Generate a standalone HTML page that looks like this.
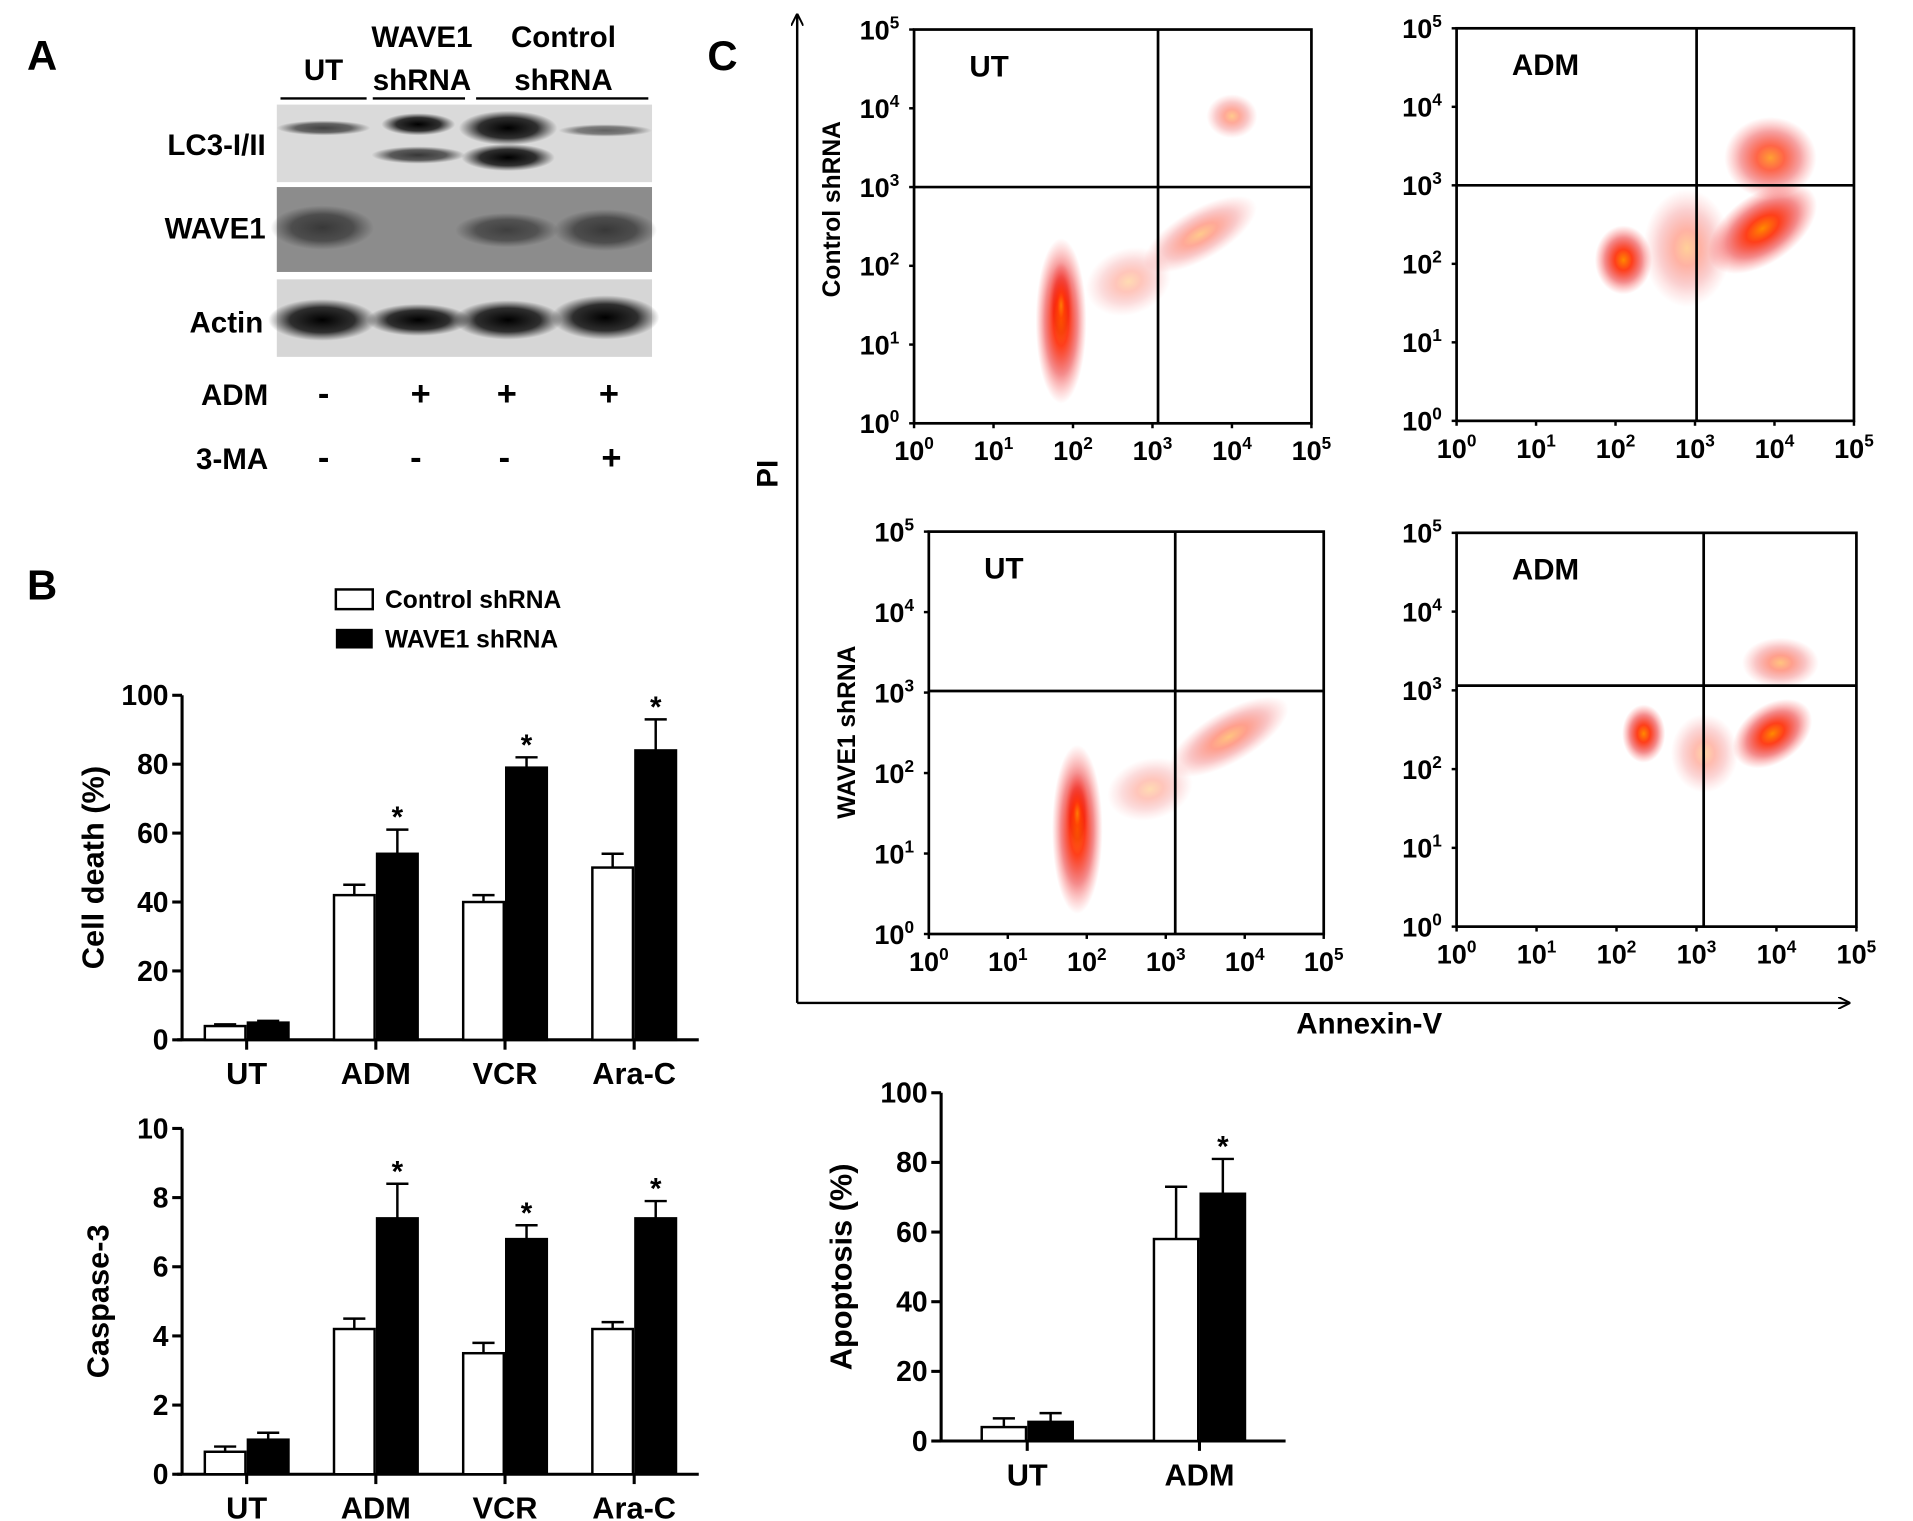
<!DOCTYPE html>
<html><head><meta charset="utf-8"><style>
html,body{margin:0;padding:0;background:#fff;}
svg{display:block;font-family:"Liberation Sans",Arial,sans-serif;font-weight:bold;}
</style></head><body>
<svg id="fig" width="1913" height="1521" viewBox="0 0 1555 1236" preserveAspectRatio="none" xmlns="http://www.w3.org/2000/svg">
<defs>
<radialGradient id="dotg"><stop offset="0" stop-color="#ff8a00" stop-opacity="1"/><stop offset="0.3" stop-color="#ff2a00" stop-opacity="0.9"/><stop offset="0.65" stop-color="#e80000" stop-opacity="0.45"/><stop offset="1" stop-color="#ff3030" stop-opacity="0"/></radialGradient>
<radialGradient id="bandg"><stop offset="0" stop-color="#000" stop-opacity="1"/><stop offset="0.6" stop-color="#111" stop-opacity="0.85"/><stop offset="1" stop-color="#222" stop-opacity="0"/></radialGradient>
<marker id="arr" viewBox="0 0 10 10" refX="9" refY="5" markerWidth="10" markerHeight="10" orient="auto" markerUnits="userSpaceOnUse"><path d="M0,0 L10,5 L0,10" fill="none" stroke="#000" stroke-width="1.6"/></marker>
</defs>

<!-- Panel A -->
<g>
<text x="22" y="57" font-size="34">A</text>
<g font-size="24" text-anchor="middle">
<text x="263" y="65">UT</text>
<text x="343" y="38">WAVE1</text><text x="343" y="73">shRNA</text>
<text x="458" y="38">Control</text><text x="458" y="73">shRNA</text>
</g>
<g stroke="#000" stroke-width="2">
<line x1="228" y1="80" x2="298" y2="80"/><line x1="303" y1="80" x2="378" y2="80"/><line x1="387" y1="80" x2="527" y2="80"/>
</g>
<g>
<rect x="225" y="85" width="305" height="63" fill="#dadada"/>
<ellipse cx="263" cy="104" rx="38" ry="6" fill="url(#bandg)" opacity="0.7"/>
<ellipse cx="340" cy="101" rx="30" ry="9" fill="url(#bandg)"/>
<ellipse cx="340" cy="126" rx="38" ry="7" fill="url(#bandg)" opacity="0.75"/>
<ellipse cx="413" cy="104" rx="40" ry="14" fill="url(#bandg)"/>
<ellipse cx="413" cy="128" rx="38" ry="11" fill="url(#bandg)"/>
<ellipse cx="492" cy="106" rx="38" ry="5" fill="url(#bandg)" opacity="0.55"/>
</g>
<g>
<rect x="225" y="152" width="305" height="69" fill="#8c8c8c"/>
<ellipse cx="262" cy="185" rx="42" ry="18" fill="url(#bandg)" opacity="0.6"/>
<ellipse cx="412" cy="187" rx="42" ry="14" fill="url(#bandg)" opacity="0.55"/>
<ellipse cx="492" cy="187" rx="42" ry="17" fill="url(#bandg)" opacity="0.6"/>
</g>
<g>
<rect x="225" y="227" width="305" height="63" fill="#d6d6d6"/>
<ellipse cx="262" cy="260" rx="44" ry="17" fill="url(#bandg)"/>
<ellipse cx="340" cy="260" rx="42" ry="13" fill="url(#bandg)"/>
<ellipse cx="413" cy="260" rx="44" ry="16" fill="url(#bandg)"/>
<ellipse cx="492" cy="258" rx="44" ry="18" fill="url(#bandg)"/>
</g>
<g font-size="24" text-anchor="end">
<text x="216" y="126">LC3-I/II</text><text x="216" y="194">WAVE1</text><text x="214" y="270">Actin</text>
<text x="218" y="329">ADM</text><text x="218" y="381">3-MA</text>
</g>
<g font-size="28" text-anchor="middle">
<text x="263" y="329">-</text><text x="342" y="329">+</text><text x="412" y="329">+</text><text x="495" y="329">+</text>
<text x="263" y="381">-</text><text x="338" y="381">-</text><text x="410" y="381">-</text><text x="497" y="381">+</text>
</g>
</g>

<!-- Panel B -->
<g>
<text x="22" y="487" font-size="34">B</text>
<g>
<rect x="273" y="479" width="30" height="16" fill="#fff" stroke="#000" stroke-width="2"/>
<text x="313" y="494" font-size="20">Control shRNA</text>
<rect x="273" y="511" width="30" height="16" fill="#000"/>
<text x="313" y="526" font-size="20">WAVE1 shRNA</text>
</g>
<g id="chartDeath"></g>
<g id="chartCasp"></g>
</g>

<!-- Panel C -->
<g>
<text x="575" y="57" font-size="34">C</text>
<line x1="648" y1="815" x2="648" y2="12" stroke="#000" stroke-width="2" marker-end="url(#arr)"/>
<line x1="648" y1="815" x2="1503" y2="815" stroke="#000" stroke-width="2" marker-end="url(#arr)"/>
<text transform="translate(632,385) rotate(-90)" font-size="24" text-anchor="middle">PI</text>
<text x="1113" y="840" font-size="24" text-anchor="middle">Annexin-V</text>
<text transform="translate(683,170) rotate(-90)" font-size="20" text-anchor="middle">Control shRNA</text>
<text transform="translate(695,595) rotate(-90)" font-size="20" text-anchor="middle">WAVE1 shRNA</text>
<g id="flows"></g>
<g id="chartApop"></g>
</g>
</svg>
<script>
// ---------- Bar chart data ----------
const barCategories = ["UT", "ADM", "VCR", "Ara-C"];
const deathControl = [4, 42, 40, 50];
const deathControlErr = [4.5, 45, 42, 54];
const deathWave1 = [5, 54, 79, 84];
const deathWave1Err = [5.5, 61, 82, 93];
const deathTicks = [0, 20, 40, 60, 80, 100];
const deathStars = [false, true, true, true];

const caspControl = [0.65, 4.2, 3.5, 4.2];
const caspControlErr = [0.8, 4.5, 3.8, 4.4];
const caspWave1 = [1.0, 7.4, 6.8, 7.4];
const caspWave1Err = [1.2, 8.4, 7.2, 7.9];
const caspTicks = [0, 2, 4, 6, 8, 10];
const caspStars = [false, true, true, true];

const apopCategories = ["UT", "ADM"];
const apopControl = [4, 58];
const apopControlErr = [6.5, 73];
const apopWave1 = [5.5, 71];
const apopWave1Err = [8, 81];
const apopTicks = [0, 20, 40, 60, 80, 100];
const apopStars = [false, true];

// ---------- Flow cytometry cluster data (log10 decades) ----------
const flowDecadeLabels = ["0", "1", "2", "3", "4", "5"];
const gateCtrlUT = [3.07, 3.0];
const gateCtrlADM = [3.02, 3.0];
const gateWaveUT = [3.12, 3.02];
const gateWaveADM = [3.09, 3.06];
// [xLog, yLog, xSpreadDecades, ySpreadDecades, angleDeg, opacity]
const clustersCtrlUT = [[1.85, 1.3, 0.32, 1.05, 0, 1], [1.85, 1.5, 0.15, 0.55, 0, 0.7], [3.6, 2.4, 0.8, 0.32, -30, 0.45], [2.7, 1.8, 0.55, 0.42, -20, 0.3], [4.0, 3.9, 0.32, 0.28, 0, 0.45]];
const clustersCtrlADM = [[2.1, 2.05, 0.36, 0.44, 0, 1], [3.85, 2.45, 0.78, 0.44, -35, 1], [3.95, 3.35, 0.58, 0.52, 0, 0.8], [2.9, 2.2, 0.55, 0.75, 0, 0.4]];
const clustersWaveUT = [[1.88, 1.3, 0.32, 1.05, 0, 1], [1.88, 1.5, 0.15, 0.5, 0, 0.7], [3.8, 2.45, 0.85, 0.32, -30, 0.5], [2.8, 1.8, 0.55, 0.38, -15, 0.3]];
const clustersWaveADM = [[2.34, 2.45, 0.27, 0.37, 0, 1], [3.95, 2.45, 0.55, 0.37, -35, 1], [4.05, 3.35, 0.48, 0.32, 0, 0.5], [3.1, 2.2, 0.42, 0.5, 0, 0.35]];

const NS = "http://www.w3.org/2000/svg";
function mk(parent, tag, attrs) {
  const e = document.createElementNS(NS, tag);
  for (const k in attrs) e.setAttribute(k, attrs[k]);
  parent.appendChild(e);
  return e;
}

function barChart(g, cfg) {
  const yMax = cfg.ticks[cfg.ticks.length - 1];
  const ys = v => cfg.y0 - (v / yMax) * (cfg.y0 - cfg.y1);
  const ax = mk(g, "line", {x1: cfg.x0, y1: cfg.y1, x2: cfg.x0, y2: cfg.y0 + 1, stroke: "#000", "stroke-width": 2.5});
  
  
  const xa = mk(g, "line", {x1: cfg.x0 - 4, y1: cfg.y0, x2: cfg.xEnd, y2: cfg.y0, stroke: "#000", "stroke-width": 2.5});
  
  
  cfg.ticks.forEach(t => {
    const y = ys(t);
    mk(g, "line", {x1: cfg.x0 - 8, y1: y, x2: cfg.x0, y2: y, stroke: "#000", "stroke-width": 2.5});
    const tx = mk(g, "text", {x: cfg.x0 - 11, y: y + 8, "font-size": 23, "text-anchor": "end"});
    tx.textContent = t;
    
    
  });
  const tt = mk(g, "text", {transform: `translate(${cfg.titleX},${(cfg.y0 + cfg.y1) / 2}) rotate(-90)`, "font-size": 25, "text-anchor": "middle"});
  tt.textContent = cfg.title;
  
  
  const n = cfg.cats.length;
  const step = (cfg.xEnd - cfg.xStart) / n;
  cfg.cats.forEach((c, i) => {
    const cx = cfg.xStart + step * (i + 0.5);
    mk(g, "line", {x1: cx, y1: cfg.y0, x2: cx, y2: cfg.y0 + 8, stroke: "#000", "stroke-width": 2.5});
    const lb = mk(g, "text", {x: cx, y: cfg.y0 + 36, "font-size": 25, "text-anchor": "middle"});
    lb.textContent = c;
    
    
    [[cfg.a, cfg.aErr, "#fff", -1], [cfg.b, cfg.bErr, "#000", 0]].forEach((s, k) => {
      const bx = cx + s[3] * cfg.bw + (k === 0 ? -1 : 1);
      const top = ys(s[0][i]);
      const et = ys(s[1][i]);
      const mid = bx + cfg.bw / 2;
      mk(g, "line", {x1: mid, y1: top, x2: mid, y2: et, stroke: "#000", "stroke-width": 2});
      mk(g, "line", {x1: mid - 9, y1: et, x2: mid + 9, y2: et, stroke: "#000", "stroke-width": 2});
      const r = mk(g, "rect", {x: bx, y: top, width: cfg.bw, height: cfg.y0 - top, fill: s[2], stroke: "#000", "stroke-width": 2});
      
      
    });
    if (cfg.stars[i]) {
      const st = mk(g, "text", {x: cx + cfg.bw / 2 + 1, y: ys(cfg.bErr[i]) - 2, "font-size": 24, "text-anchor": "middle"});
      st.textContent = "*";
      
      
    }
  });
}

barChart(document.getElementById("chartDeath"), {x0: 148, xStart: 148, xEnd: 568, y0: 845, y1: 565, ticks: deathTicks, cats: barCategories, a: deathControl, aErr: deathControlErr, b: deathWave1, bErr: deathWave1Err, stars: deathStars, bw: 33, title: "Cell death (%)", titleX: 84});
barChart(document.getElementById("chartCasp"), {x0: 148, xStart: 148, xEnd: 568, y0: 1198, y1: 917, ticks: caspTicks, cats: barCategories, a: caspControl, aErr: caspControlErr, b: caspWave1, bErr: caspWave1Err, stars: caspStars, bw: 33, title: "Caspase-3", titleX: 88});
barChart(document.getElementById("chartApop"), {x0: 765, xStart: 765, xEnd: 1045, y0: 1171, y1: 888, ticks: apopTicks, cats: apopCategories, a: apopControl, aErr: apopControlErr, b: apopWave1, bErr: apopWave1Err, stars: apopStars, bw: 36, title: "Apoptosis (%)", titleX: 692});

function flowPlot(parent, box, title, gate, clusters, name) {
  const g = mk(parent, "g", {});
  
  
  const [L, T, R, B] = box;
  const xs = v => L + (v / 5) * (R - L);
  const ys = v => B - (v / 5) * (B - T);
  const sx = (R - L) / 5, sy = (B - T) / 5;
  clusters.forEach(c => {
    const cx = xs(c[0]), cy = ys(c[1]);
    const e = mk(g, "ellipse", {cx: cx, cy: cy, rx: c[2] * sx, ry: c[3] * sy, fill: "url(#dotg)", opacity: c[5], transform: `rotate(${c[4]},${cx},${cy})`});
    
    
  });
  mk(g, "rect", {x: L, y: T, width: R - L, height: B - T, fill: "none", stroke: "#000", "stroke-width": 2.2});
  const vg = mk(g, "line", {x1: xs(gate[0]), y1: T, x2: xs(gate[0]), y2: B, stroke: "#000", "stroke-width": 2.2});
  
  
  const hg = mk(g, "line", {x1: L, y1: ys(gate[1]), x2: R, y2: ys(gate[1]), stroke: "#000", "stroke-width": 2.2});
  
  
  flowDecadeLabels.forEach((d, i) => {
    const t1 = mk(g, "text", {x: xs(i), y: B + 30, "font-size": 22, "text-anchor": "middle"});
    t1.innerHTML = '10<tspan dy="-9" font-size="14">' + d + '</tspan>';
    
    
    const t2 = mk(g, "text", {x: L - 12, y: ys(i) + 8, "font-size": 22, "text-anchor": "end"});
    t2.innerHTML = '10<tspan dy="-9" font-size="14">' + d + '</tspan>';
    
    
    mk(g, "line", {x1: L - 4, y1: ys(i), x2: L, y2: ys(i), stroke: "#000", "stroke-width": 2});
    mk(g, "line", {x1: xs(i), y1: B, x2: xs(i), y2: B + 4, stroke: "#000", "stroke-width": 2});
  });
  const tt = mk(g, "text", {x: L + 45, y: T + 38, "font-size": 24});
  tt.textContent = title;
  
  
}
const flows = document.getElementById("flows");
flowPlot(flows, [743, 24, 1066, 344], "UT", gateCtrlUT, clustersCtrlUT, "flow-control-ut");
flowPlot(flows, [1184, 23, 1507, 342], "ADM", gateCtrlADM, clustersCtrlADM, "flow-control-adm");
flowPlot(flows, [755, 432, 1076, 759], "UT", gateWaveUT, clustersWaveUT, "flow-wave1-ut");
flowPlot(flows, [1184, 433, 1509, 753], "ADM", gateWaveADM, clustersWaveADM, "flow-wave1-adm");
</script>
</body></html>
